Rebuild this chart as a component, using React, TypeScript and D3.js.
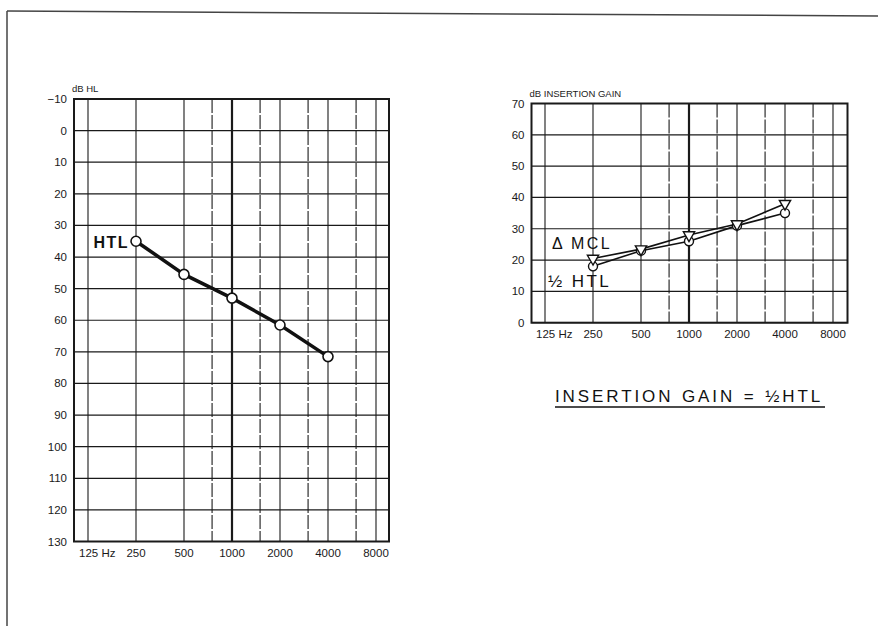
import { scaleLog, scaleLinear, line, symbol, symbolTriangle } from "d3";

const testFreqs = [250, 500, 1000, 2000, 4000];
const htlValues = [35, 45.5, 53, 61.5, 71.5];
const mclValues = [20.5, 23.5, 28, 31.5, 38];
const halfHtlValues = [18, 23, 26, 31, 35];

const gridFreqs = [125, 250, 500, 750, 1000, 1500, 2000, 3000, 4000, 6000, 8000];
const halfOctaves = [750, 1500, 3000, 6000];
const freqLabels = [125, 250, 500, 1000, 2000, 4000, 8000];
const hlTicks = [-10, 0, 10, 20, 30, 40, 50, 60, 70, 80, 90, 100, 110, 120, 130];
const gainTicks = [0, 10, 20, 30, 40, 50, 60, 70];

const font = "'Liberation Sans', Arial, sans-serif";
const ink = "#1a1a1a";

type Frame = {
  x0: number; // plot left edge
  x1: number; // plot right edge
  fx: [number, number]; // pixel range for 125..8000
  y: [number, number]; // pixel range for y domain
  yDomain: [number, number];
};

const Grid = ({ f, ticks, yLabel }: { f: Frame; ticks: number[]; yLabel: string }) => {
  const x = scaleLog().base(2).domain([125, 8000]).range(f.fx);
  const y = scaleLinear().domain(f.yDomain).range(f.y);
  const top = Math.min(...f.y);
  const bottom = Math.max(...f.y);
  return (
    <g>
      {ticks.map((t) => (
        <g key={t}>
          <line x1={f.x0} x2={f.x1} y1={y(t)} y2={y(t)} stroke={ink} strokeWidth={1.2} />
          <text x={f.x0 - 7} y={y(t)} dy="0.35em" textAnchor="end" fontSize={11.5} fill={ink}>
            {t < 0 ? "\u2212" + Math.abs(t) : t}
          </text>
        </g>
      ))}
      {gridFreqs.map((fr) => (
        <line
          key={fr}
          x1={x(fr)}
          x2={x(fr)}
          y1={top}
          y2={bottom}
          stroke={ink}
          strokeWidth={fr === 1000 ? 2.2 : 1.1}
          strokeDasharray={halfOctaves.includes(fr) ? "14,2" : undefined}
        />
      ))}
      {freqLabels.map((fr) =>
        fr === 125 ? (
          <text key={fr} x={x(fr) - 9} y={bottom + 15} fontSize={11.5} fill={ink}>
            125 Hz
          </text>
        ) : (
          <text key={fr} x={x(fr)} y={bottom + 15} textAnchor="middle" fontSize={11.5} fill={ink}>
            {fr}
          </text>
        )
      )}
      <rect x={f.x0} y={top} width={f.x1 - f.x0} height={bottom - top} fill="none" stroke={ink} strokeWidth={2} />
      <text x={f.x0 - 2} y={top - 7} fontSize={9.5} fill={ink}>
        {yLabel}
      </text>
    </g>
  );
};

const leftF: Frame = { x0: 74, x1: 389, fx: [88, 376], y: [99, 541.5], yDomain: [-10, 130] };
const rightF: Frame = { x0: 531.5, x1: 847.5, fx: [545, 833], y: [322.7, 103.5], yDomain: [0, 70] };

export default function App() {
  const lx = scaleLog().base(2).domain([125, 8000]).range(leftF.fx);
  const ly = scaleLinear().domain(leftF.yDomain).range(leftF.y);
  const rx = scaleLog().base(2).domain([125, 8000]).range(rightF.fx);
  const ry = scaleLinear().domain(rightF.yDomain).range(rightF.y);

  const htlPts = testFreqs.map((fr, i) => [lx(fr), ly(htlValues[i])] as [number, number]);
  const mclPts = testFreqs.map((fr, i) => [rx(fr), ry(mclValues[i])] as [number, number]);
  const halfPts = testFreqs.map((fr, i) => [rx(fr), ry(halfHtlValues[i])] as [number, number]);
  const path = line();
  const tri = symbol().type(symbolTriangle).size(55)();

  return (
    <svg
      width={878}
      height={626}
      style={{ position: "absolute", left: 0, top: 0, background: "#fff", fontFamily: font }}
    >
      <line x1={7} y1={11} x2={878} y2={16} stroke="#444" strokeWidth={1.5} />
      <line x1={7} y1={11} x2={7} y2={626} stroke="#444" strokeWidth={1.5} />

      <Grid f={leftF} ticks={hlTicks} yLabel="dB HL" />
      <Grid f={rightF} ticks={gainTicks} yLabel="dB INSERTION GAIN" />

      {/* HTL audiogram */}
      <path d={path(htlPts) ?? ""} fill="none" stroke="#111" strokeWidth={3.5} />
      {htlPts.map(([cx, cy], i) => (
        <circle key={i} cx={cx} cy={cy} r={5} fill="#fff" stroke="#111" strokeWidth={1.6} />
      ))}
      <text
        x={lx(250) - 7}
        y={ly(35) + 7}
        textAnchor="end"
        fontSize={16}
        fontWeight={600}
        letterSpacing={1.5}
        fill="#111"
      >
        HTL
      </text>

      {/* insertion gain */}
      <path d={path(mclPts) ?? ""} fill="none" stroke="#111" strokeWidth={1.6} />
      <path d={path(halfPts) ?? ""} fill="none" stroke="#111" strokeWidth={1.6} />
      {halfPts.map(([cx, cy], i) => (
        <circle key={i} cx={cx} cy={cy} r={4.5} fill="#fff" stroke="#111" strokeWidth={1.4} />
      ))}
      {mclPts.map(([cx, cy], i) => (
        <path
          key={i}
          d={tri}
          transform={`translate(${cx},${cy}) rotate(180)`}
          fill="#fff"
          stroke="#111"
          strokeWidth={1.4}
        />
      ))}
      <text x={rx(125) + 7} y={ry(23.5)} fontSize={16} letterSpacing={2.4} fill="#111">
        {"\u0394 MCL"}
      </text>
      <text x={rx(125) + 3} y={ry(11.5)} fontSize={17} letterSpacing={2.4} fill="#111">
        {"\u00bd HTL"}
      </text>

      <text x={555} y={401.5} fontSize={17} letterSpacing={2.9} wordSpacing={1} fill="#111">
        {"INSERTION  GAIN = \u00bdHTL"}
      </text>
      <line x1={555} x2={825} y1={407} y2={407} stroke="#111" strokeWidth={1.3} />
    </svg>
  );
}
